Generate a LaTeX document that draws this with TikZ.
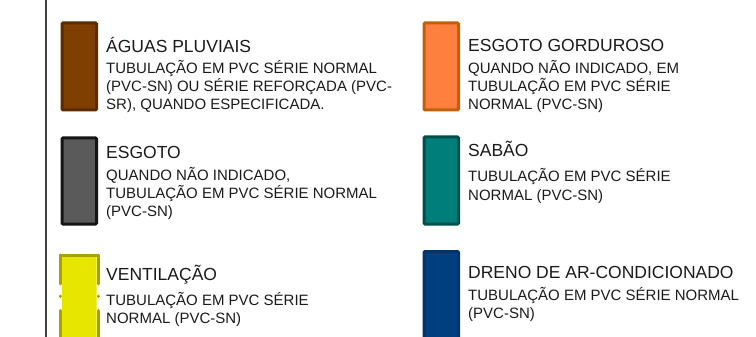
\documentclass[tikz,border=0pt]{standalone}
\usepackage{fontspec}
\setmainfont{Liberation Sans}
\usepackage{xcolor}
\usetikzlibrary{positioning}
\definecolor{inkgray}{HTML}{1A1A1A}
\definecolor{rulegray}{HTML}{404040}
\definecolor{brownfill}{HTML}{7F3F00}
\definecolor{brownedge}{HTML}{5C2B00}
\definecolor{greyfill}{HTML}{5A5A5A}
\definecolor{greyedge}{HTML}{151515}
\definecolor{yellowfill}{HTML}{E6E600}
\definecolor{yellowedge}{HTML}{A6A300}
\definecolor{orangefill}{HTML}{FF7F3F}
\definecolor{orangeedge}{HTML}{C0600A}
\definecolor{tealfill}{HTML}{007F7A}
\definecolor{tealedge}{HTML}{004F4A}
\definecolor{bluefill}{HTML}{003F7F}
\definecolor{blueedge}{HTML}{00346A}

\tikzset{
    swatch/.style={anchor=north west, inner sep=0pt, line width=3pt, rounded corners=1pt,
        minimum width=34.5pt},
    ttl/.style={anchor=base west, inner sep=0pt, text=inkgray, font=\fontsize{17.5}{21}\selectfont},
    % placed at the baseline of its last line
    sub/.style={anchor=base west, inner sep=0pt, text=inkgray, align=left, font=\fontsize{15}{18}\selectfont},
    ventedge/.style={yellowedge, line width=3pt, line cap=round}
}

\begin{document}
\begin{tikzpicture}[x=1pt, y=-1pt]
    \clip (0,0) rectangle (756,337);
    % left rule
    \coordinate (rtop) at (46,0);
    \coordinate (rbot) at (46,337);
    \draw[rulegray, line width=1.3pt] (rtop) -- (rbot);
    % left column
    \node[swatch, minimum height=87pt, fill=brownfill, draw=brownedge] (ap) at (60.5,21.5) {};
    \node[ttl] (apt) at (106,53) {ÁGUAS PLUVIAIS};
    \node[sub] (aps) at (106,109.5) {TUBULAÇÃO EM PVC SÉRIE NORMAL\\(PVC-SN) OU SÉRIE REFORÇADA (PVC-\\SR), QUANDO ESPECIFICADA.};
    \node[swatch, minimum height=86pt, fill=greyfill, draw=greyedge] (es) at (60.5,136.5) {};
    \node[ttl] (est) at (106,158) {ESGOTO};
    \node[sub] (ess) at (106,216.5) {QUANDO NÃO INDICADO,\\TUBULAÇÃO EM PVC SÉRIE NORMAL\\(PVC-SN)};
    \node[swatch, minimum height=100pt, fill=yellowfill] (vt) at (60.5,255) {};
    \draw[ventedge] (vt.north west) -- (vt.north east);
    \draw[ventedge, dash pattern=on 29pt off 12pt on 0.5pt off 14pt on 100pt] (vt.north west) -- (vt.south west);
    \draw[ventedge, dash pattern=on 29pt off 12pt on 0.5pt off 14pt on 100pt] (vt.north east) -- (vt.south east);
    \node[ttl] (vtt) at (106,280) {VENTILAÇÃO};
    \node[sub] (vts) at (106,323) {TUBULAÇÃO EM PVC SÉRIE\\NORMAL (PVC-SN)};
    % right column
    \node[swatch, minimum height=87pt, fill=orangefill, draw=orangeedge] (eg) at (422.5,21.5) {};
    \node[ttl] (egt) at (468,52) {ESGOTO GORDUROSO};
    \node[sub] (egs) at (468,110) {QUANDO NÃO INDICADO, EM\\TUBULAÇÃO EM PVC SÉRIE\\NORMAL (PVC-SN)};
    \node[swatch, minimum height=87pt, fill=tealfill, draw=tealedge] (sb) at (422.5,135.5) {};
    \node[ttl] (sbt) at (468,157) {SABÃO};
    \node[sub] (sbs) at (468,200) {TUBULAÇÃO EM PVC SÉRIE\\NORMAL (PVC-SN)};
    \node[swatch, minimum height=100pt, fill=bluefill, draw=blueedge] (dr) at (422.5,250) {};
    \node[ttl] (drt) at (468,278) {DRENO DE AR-CONDICIONADO};
    \node[sub] (drs) at (468,318) {TUBULAÇÃO EM PVC SÉRIE NORMAL\\(PVC-SN)};
\end{tikzpicture}
\end{document}
